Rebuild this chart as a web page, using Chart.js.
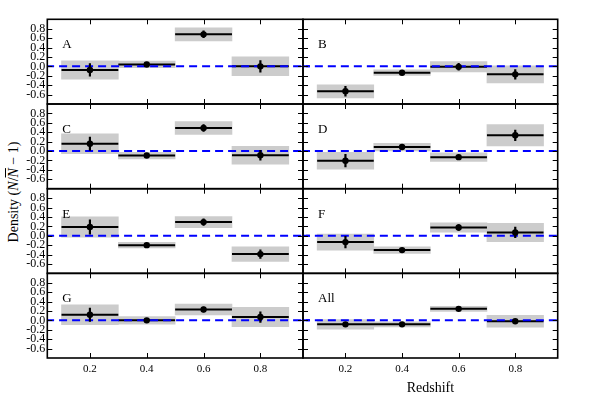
<!DOCTYPE html>
<html>
<head>
<meta charset="utf-8">
<script src="https://cdn.jsdelivr.net/npm/chart.js@4/dist/chart.umd.min.js"></script>
<style>
  html, body { margin: 0; padding: 0; background: #fff; }
  #wrap { position: relative; width: 600px; height: 400px; overflow: hidden; }
  #wrap canvas { position: absolute; left: 0; top: 0; }
  #ylabel {
    position: absolute; left: 14px; top: 192px;
    transform: translate(-50%, -50%) rotate(-90deg);
    white-space: nowrap; font: 14px "Liberation Serif", "Times New Roman", serif; color: #000;
  }
</style>
</head>
<body>
<div id="wrap">
  <div id="ylabel">Density (<i>N</i>/<i style="text-decoration: overline">N</i> &minus; 1)</div>
</div>
<script>
// bins and axis ticks
const binCenters = [0.2, 0.4, 0.6, 0.8];
const binHalfWidth = 0.1;
const xTicks = [0.2, 0.4, 0.6, 0.8];
const xTickLabels = ["0.2", "0.4", "0.6", "0.8"];
const yTicks = [-0.6, -0.4, -0.2, 0, 0.2, 0.4, 0.6, 0.8];
const yTickLabels = ["-0.6", "-0.4", "-0.2", "0.0", "0.2", "0.4", "0.6", "0.8"];
const panelNames = ["A", "B", "C", "D", "E", "F", "G", "All"];

// density, half-height of grey band, half error bar
const densA = [-0.075, 0.04, 0.68, 0.0];
const bandA = [0.195, 0.07, 0.14, 0.2];
const errA = [0.14, 0.05, 0.08, 0.13];

const densB = [-0.53, -0.135, -0.01, -0.17];
const bandB = [0.14, 0.06, 0.11, 0.18];
const errB = [0.11, 0.04, 0.08, 0.11];

const densC = [0.155, -0.095, 0.49, -0.09];
const bandC = [0.21, 0.07, 0.135, 0.19];
const errC = [0.15, 0.04, 0.08, 0.11];

const densD = [-0.205, 0.085, -0.13, 0.335];
const bandD = [0.18, 0.08, 0.09, 0.225];
const errD = [0.14, 0.05, 0.05, 0.12];

const densE = [0.185, -0.2, 0.29, -0.39];
const bandE = [0.215, 0.06, 0.12, 0.155];
const errE = [0.16, 0.03, 0.075, 0.1];

const densF = [-0.135, -0.305, 0.175, 0.07];
const bandF = [0.17, 0.07, 0.1, 0.195];
const errF = [0.13, 0.03, 0.07, 0.12];

const densG = [0.12, 0.0, 0.23, 0.07];
const bandG = [0.21, 0.08, 0.115, 0.205];
const errG = [0.15, 0.03, 0.06, 0.12];

const densAll = [-0.085, -0.085, 0.245, -0.02];
const bandAll = [0.1, 0.055, 0.055, 0.125];
const errAll = [0.03, 0.03, 0.03, 0.04];

const panelDens = [densA, densB, densC, densD, densE, densF, densG, densAll];
const panelBand = [bandA, bandB, bandC, bandD, bandE, bandF, bandG, bandAll];
const panelErr = [errA, errB, errC, errD, errE, errF, errG, errAll];

// layout of the 4x2 grid (pixels)
const colLeft = [47.3, 303];
const colRight = [303, 557.7];
const rowTop = [19.3, 104, 188.7, 273.3];
const rowH = 84.7;
const yAxisW = 30;
const xAxisH = 39;

const SERIF = '"Liberation Serif", "Times New Roman", serif';

// frame, inward ticks and panel letter
const framePlugin = {
  id: "frame",
  afterDatasetsDraw(chart, args, opts) {
    const { ctx, chartArea: a, scales: { x, y } } = chart;
    ctx.save();
    ctx.strokeStyle = "#000";
    ctx.lineWidth = 1;
    ctx.beginPath();
    xTicks.forEach(v => {
      const px = Math.round(x.getPixelForValue(v)) + 0.5;
      ctx.moveTo(px, a.top); ctx.lineTo(px, a.top + 5);
      ctx.moveTo(px, a.bottom); ctx.lineTo(px, a.bottom - 5);
    });
    yTicks.forEach(v => {
      const py = Math.round(y.getPixelForValue(v)) + 0.5;
      ctx.moveTo(a.left, py); ctx.lineTo(a.left + 5, py);
      ctx.moveTo(a.right, py); ctx.lineTo(a.right - 5, py);
    });
    ctx.stroke();
    ctx.lineWidth = 1.6;
    ctx.strokeRect(a.left, a.top, a.right - a.left, a.bottom - a.top);
    ctx.fillStyle = "#000";
    ctx.font = "13px " + SERIF;
    ctx.textBaseline = "alphabetic";
    ctx.fillText(opts.label, a.left + 15, a.top + 29);
    ctx.restore();
  }
};

const wrap = document.getElementById("wrap");

panelNames.forEach((name, p) => {
  const col = p % 2;
  const row = Math.floor(p / 2);
  const dens = panelDens[p], band = panelBand[p], err = panelErr[p];
  const isBottom = row === 3;

  const canvas = document.createElement("canvas");
  canvas.width = 600; canvas.height = 400;
  wrap.appendChild(canvas);

  const boxes = binCenters.map((c, i) => ({ x: c, y: [dens[i] - band[i], dens[i] + band[i]] }));
  const hlines = [];
  const ebars = [];
  binCenters.forEach((c, i) => {
    hlines.push({ x: c - binHalfWidth, y: dens[i] }, { x: c + binHalfWidth, y: dens[i] }, { x: c + binHalfWidth, y: null });
    ebars.push({ x: c, y: dens[i] - err[i] }, { x: c, y: dens[i] + err[i] }, { x: c, y: null });
  });
  const pts = binCenters.map((c, i) => ({ x: c, y: dens[i] }));

  const padBottom = isBottom ? 400 - (rowTop[row] + rowH) - xAxisH : 400 - (rowTop[row] + rowH);

  new Chart(canvas, {
    type: "bar",
    data: {
      datasets: [
        { type: "bar", data: boxes, backgroundColor: "#cccccc", borderWidth: 0,
          barPercentage: 1, categoryPercentage: 1, order: 4 },
        { type: "line", data: hlines, borderColor: "#000", borderWidth: 2, pointRadius: 0, order: 3 },
        { type: "line", data: [{ x: 0, y: 0 }, { x: 1, y: 0 }], borderColor: "#0000ff", borderWidth: 2,
          borderDash: [8, 5], pointRadius: 0, order: 2,
          clip: { left: col === 1 ? 6 : 0, right: col === 0 ? 7 : 0, top: 0, bottom: 0 } },
        { type: "line", data: ebars, borderColor: "#000", borderWidth: 2.2, pointRadius: 0, order: 1 },
        { type: "line", data: pts, showLine: false, pointRadius: 3.2, pointBackgroundColor: "#000",
          pointBorderWidth: 0, order: 0 }
      ]
    },
    options: {
      responsive: false,
      animation: false,
      events: [],
      layout: {
        padding: {
          left: col === 0 ? colLeft[0] - yAxisW : colLeft[1],
          right: 600 - colRight[col],
          top: rowTop[row],
          bottom: padBottom
        }
      },
      plugins: {
        legend: { display: false },
        tooltip: { enabled: false },
        frame: { label: name }
      },
      scales: {
        x: {
          type: "linear",
          min: 0.05, max: 0.95,
          display: isBottom,
          offset: false,
          grid: { display: false, drawTicks: false },
          border: { display: false },
          afterBuildTicks: s => { s.ticks = xTicks.map(v => ({ value: v })); },
          afterFit: s => { s.height = isBottom ? xAxisH : 0; },
          ticks: {
            autoSkip: false, maxRotation: 0, padding: 5,
            color: "#000", font: { family: SERIF, size: 11 },
            callback: (v, i) => xTickLabels[i]
          },
          title: {
            display: col === 1, text: "Redshift", color: "#000",
            font: { family: SERIF, size: 14 }, padding: { top: 0, bottom: 0 }
          }
        },
        y: {
          min: -0.8, max: 1.0,
          display: col === 0,
          grid: { display: false, drawTicks: false },
          border: { display: false },
          afterBuildTicks: s => { s.ticks = yTicks.map(v => ({ value: v })); },
          afterFit: s => { s.width = col === 0 ? yAxisW : 0; },
          ticks: {
            autoSkip: false, padding: 2,
            color: "#000", font: { family: SERIF, size: 12 },
            callback: (v, i) => yTickLabels[i]
          }
        }
      }
    },
    plugins: [framePlugin]
  });
});
</script>
</body>
</html>
